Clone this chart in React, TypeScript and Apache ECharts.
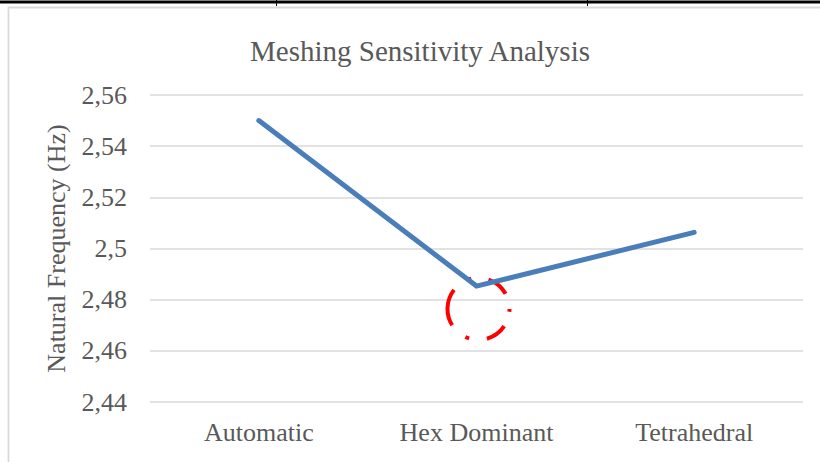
import React, { useEffect, useRef } from "react";
import * as echarts from "echarts";

const categories = ["Automatic", "Hex Dominant", "Tetrahedral"];
const frequencies = [2.55, 2.4853, 2.5063];
const yTicks = { min: 2.44, max: 2.56, interval: 0.02 };
const circleCenter = [1, 2.4764];

const FONT = "'Liberation Serif', 'Times New Roman', serif";
const GREY = "#595959";

export default function App() {
  const ref = useRef<HTMLDivElement>(null);
  useEffect(() => {
    document.body.style.margin = "0";
    const chart = echarts.init(ref.current!, null, { renderer: "svg" });
    const baseGraphic: any[] = [
      {
        type: "rect",
        shape: { x: 8.5, y: 7.5, width: 900, height: 600 },
        style: { fill: "none", stroke: "#d9d9d9", lineWidth: 1.8 },
        z: 0,
        silent: true,
      },
      {
        type: "line",
        shape: { x1: 0, y1: 2, x2: 820, y2: 2 },
        style: { stroke: "#000", lineWidth: 3 },
        silent: true,
      },
      {
        type: "line",
        shape: { x1: 276.5, y1: 0, x2: 276.5, y2: 6 },
        style: { stroke: "#000", lineWidth: 1 },
        silent: true,
      },
      {
        type: "line",
        shape: { x1: 587.5, y1: 0, x2: 587.5, y2: 6 },
        style: { stroke: "#000", lineWidth: 1 },
        silent: true,
      },
    ];
    const option: any = {
      animation: false,
      backgroundColor: "#fff",
      title: {
        text: "Meshing Sensitivity Analysis",
        left: 245,
        top: 31,
        textStyle: { fontFamily: FONT, fontSize: 29, fontWeight: "normal", color: GREY },
      },
      grid: { left: 150, right: 17, top: 95, bottom: 60, containLabel: false },
      xAxis: {
        type: "category",
        data: categories,
        boundaryGap: true,
        axisLine: { show: false },
        axisTick: { show: false },
        axisLabel: { fontFamily: FONT, fontSize: 26, color: GREY, margin: 17 },
      },
      yAxis: {
        type: "value",
        min: yTicks.min,
        max: yTicks.max,
        interval: yTicks.interval,
        name: "Natural Frequency (Hz)",
        nameLocation: "middle",
        nameGap: 81,
        nameRotate: 90,
        nameTextStyle: { fontFamily: FONT, fontSize: 26, color: GREY },
        axisLine: { show: false },
        axisTick: { show: false },
        splitLine: { lineStyle: { color: "#d9d9d9", width: 1.6 } },
        axisLabel: {
          fontFamily: FONT,
          fontSize: 26,
          color: GREY,
          margin: 23,
          formatter: (v: number) => String(+v.toFixed(2)).replace(".", ","),
        },
      },
      series: [
        {
          type: "line",
          data: frequencies,
          symbol: "none",
          lineStyle: { color: "#4a7ebb", width: 5, cap: "round", join: "miter" },
          z: 3,
        },
      ],
      graphic: baseGraphic,
    };
    chart.setOption(option);
    const p = chart.convertToPixel({ xAxisIndex: 0, yAxisIndex: 0 }, circleCenter) as number[];
    chart.setOption({
      graphic: [
        ...baseGraphic,
        {
          type: "circle",
          shape: { cx: p[0] + 2, cy: p[1], r: 31 },
          style: {
            fill: "none",
            stroke: "#ff0000",
            lineWidth: 4,
            lineDash: [3, 15.4, 21.6, 18, 4, 18, 37.4, 17.1, 4, 17.3, 22.7, 16.3],
            lineDashOffset: 0,
          },
          z: 1,
          silent: true,
        },
      ],
    });
    return () => chart.dispose();
  }, []);
  return (
    <div
      ref={ref}
      style={{ position: "absolute", left: 0, top: 0, width: 820, height: 462 }}
    />
  );
}
